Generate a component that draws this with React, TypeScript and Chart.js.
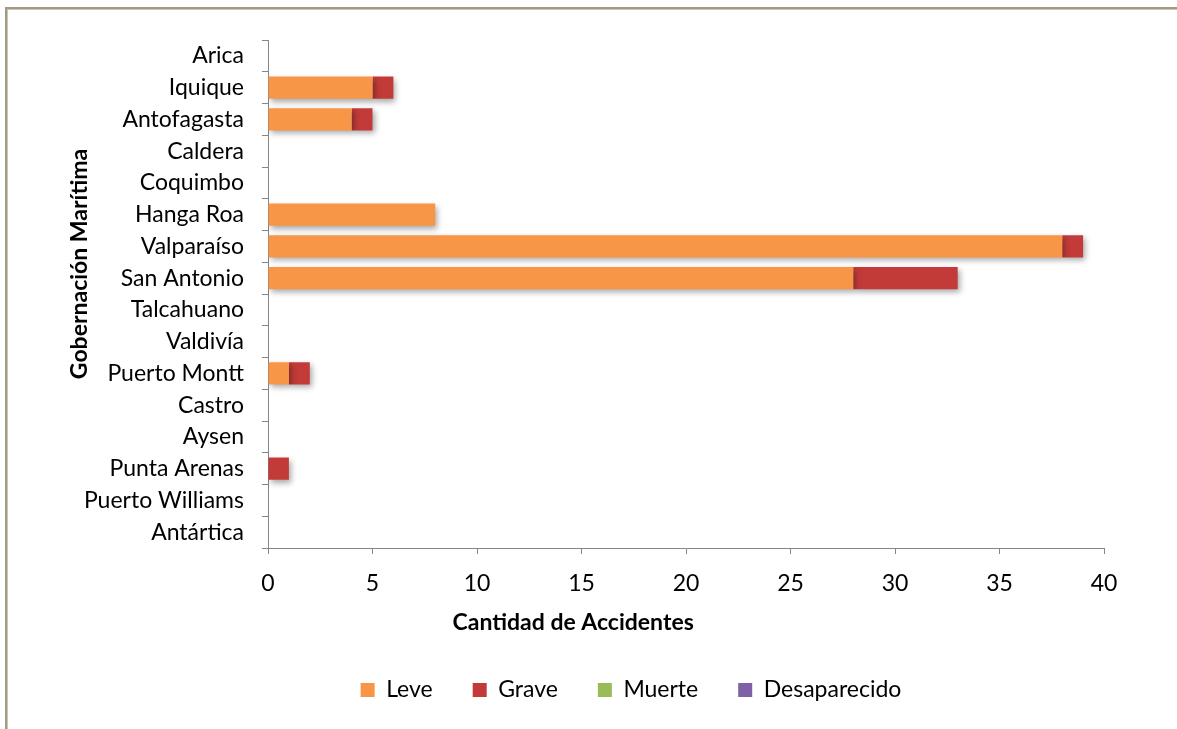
import React, { useEffect, useRef } from "react";
import { Chart, registerables } from "chart.js";

Chart.register(...registerables);

const FONT = "Lato, 'Noto Sans', sans-serif";

const categories = [
  "Arica",
  "Iquique",
  "Antofagasta",
  "Caldera",
  "Coquimbo",
  "Hanga Roa",
  "Valparaíso",
  "San Antonio",
  "Talcahuano",
  "Valdivía",
  "Puerto Montt",
  "Castro",
  "Aysen",
  "Punta Arenas",
  "Puerto Williams",
  "Antártica",
];
const leve = [0, 5, 4, 0, 0, 8, 38, 28, 0, 0, 1, 0, 0, 0, 0, 0];
const grave = [0, 1, 1, 0, 0, 0, 1, 5, 0, 0, 1, 0, 0, 1, 0, 0];
const muerte = [0, 0, 0, 0, 0, 0, 0, 0, 0, 0, 0, 0, 0, 0, 0, 0];
const desaparecido = [0, 0, 0, 0, 0, 0, 0, 0, 0, 0, 0, 0, 0, 0, 0, 0];
const seriesNames = ["Leve", "Grave", "Muerte", "Desaparecido"];
const xMin = 0;
const xMax = 40;
const xStep = 5;
const xAxisTitle = "Cantidad de Accidentes";
const yAxisTitle = "Gobernación Marítima";

const shadowPlugin = {
  id: "barShadow",
  beforeDatasetsDraw(chart: any) {
    const ctx = chart.ctx;
    ctx.save();
    ctx.shadowColor = "rgba(0,0,0,0.35)";
    ctx.shadowBlur = 6;
    ctx.shadowOffsetX = 2;
    ctx.shadowOffsetY = 3;
  },
  afterDatasetsDraw(chart: any) {
    chart.ctx.restore();
  },
};

const legendShiftPlugin = {
  id: "legendShift",
  afterLayout(chart: any) {
    if (chart.legend) {
      chart.legend.left += 50;
      chart.legend.right += 50;
    }
  },
};

const titlesPlugin = {
  id: "axisTitles",
  afterDraw(chart: any) {
    const ctx = chart.ctx;
    const a = chart.chartArea;
    ctx.save();
    ctx.font = `bold 23px ${FONT}`;
    ctx.fillStyle = "#000";
    ctx.textAlign = "center";
    ctx.textBaseline = "middle";
    ctx.fillText(xAxisTitle, a.left + (a.right - a.left) * 0.365, a.bottom + 75);
    ctx.translate(80, a.top + (a.bottom - a.top) * 0.441);
    ctx.rotate(-Math.PI / 2);
    ctx.fillText(yAxisTitle, 0, 0);
    ctx.restore();
  },
};

export default function App() {
  const ref = useRef<HTMLCanvasElement>(null);

  useEffect(() => {
    if (!ref.current) return;
    Chart.defaults.font.family = FONT;
    const chart = new Chart(ref.current, {
      type: "bar",
      data: {
        labels: categories,
        datasets: [
          { label: seriesNames[0], data: leve, backgroundColor: "#F79646" },
          { label: seriesNames[1], data: grave, backgroundColor: "#C23B38" },
          { label: seriesNames[2], data: muerte, backgroundColor: "#9BBB59" },
          { label: seriesNames[3], data: desaparecido, backgroundColor: "#7F5FA6" },
        ],
      },
      options: {
        indexAxis: "y",
        animation: false,
        responsive: false,
        maintainAspectRatio: false,
        layout: { padding: { left: 58, right: 73, top: 40, bottom: 17.5 } },
        datasets: {
          bar: { barPercentage: 0.7, categoryPercentage: 1, borderWidth: 0 },
        },
        scales: {
          x: {
            stacked: true,
            min: xMin,
            max: xMax,
            ticks: { stepSize: xStep, color: "#000", font: { size: 23 }, padding: 16 },
            grid: { drawOnChartArea: false, drawTicks: true, tickLength: 6, color: "#868686" },
            border: { display: true, color: "#868686", width: 1 },
            afterFit: (s: any) => {
              s.height = 90.5;
            },
          },
          y: {
            stacked: true,
            ticks: { color: "#000", font: { size: 23 }, padding: 18, autoSkip: false },
            grid: { drawOnChartArea: false, drawTicks: true, tickLength: 6, offset: true, color: "#868686" },
            border: { display: true, color: "#868686", width: 1 },
            afterFit: (s: any) => {
              s.width = 210;
            },
          },
        },
        plugins: {
          legend: {
            display: true,
            position: "bottom",
            labels: {
              color: "#000",
              font: { size: 23 },
              boxWidth: 14,
              boxHeight: 14,
              padding: 40,
            },
          },
          tooltip: { enabled: false },
        },
      },
      plugins: [shadowPlugin, legendShiftPlugin, titlesPlugin],
    });
    return () => chart.destroy();
  }, []);

  return (
    <div
      style={{
        position: "absolute",
        left: 0,
        top: 0,
        width: 1177,
        height: 729,
        overflow: "hidden",
        background: "#fff",
      }}
    >
      <div
        style={{
          position: "absolute",
          left: 5,
          top: 7,
          width: 1250,
          height: 800,
          border: "2px solid #A39A83",
          boxShadow: "inset 0 0 0 1px #CCC5B2",
        }}
      />
      <canvas
        ref={ref}
        width={1177}
        height={729}
        style={{ position: "absolute", left: 0, top: 0, width: 1177, height: 729 }}
      />
    </div>
  );
}
